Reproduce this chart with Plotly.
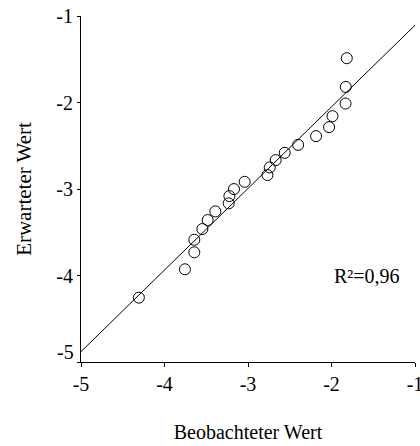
import plotly.graph_objects as go

# Observed (x) vs expected (y) values
beobachtet = [-4.307, -3.755, -3.643, -3.643, -3.547, -3.483, -3.391, -3.231, -3.223, -3.168,
              -3.040, -2.767, -2.740, -2.668, -2.560, -2.400, -2.185, -2.029, -1.988, -1.832,
              -1.829, -1.817]
erwartet = [-4.256, -3.928, -3.732, -3.587, -3.463, -3.359, -3.259, -3.166, -3.082, -3.001,
            -2.917, -2.839, -2.751, -2.666, -2.582, -2.490, -2.389, -2.285, -2.158, -2.012,
            -1.820, -1.488]

# Regression line end points
linie_x = [-5, -1]
linie_y = [-4.88, -1.107]

x_ticks = [-5, -4, -3, -2, -1]
y_ticks = [-5, -4, -3, -2, -1]
r2_text = "R²=0,96"

FONT = "Liberation Serif"
FS = 20

fig = go.Figure()
fig.add_trace(go.Scatter(x=linie_x, y=linie_y, mode="lines",
                         line=dict(color="black", width=1), showlegend=False,
                         hoverinfo="skip"))
fig.add_trace(go.Scatter(x=beobachtet, y=erwartet, mode="markers",
                         marker=dict(symbol="circle-open", size=11,
                                     color="black", line=dict(width=1, color="black")),
                         showlegend=False))

fig.update_layout(
    width=420, height=446,
    margin=dict(l=81, r=5, t=16, b=84),
    paper_bgcolor="white", plot_bgcolor="white",
    font=dict(family=FONT, size=FS, color="black"),
    xaxis=dict(range=[-5, -1], tickvals=x_ticks, ticktext=[str(v) for v in x_ticks],
               showline=True, linecolor="black", linewidth=1, ticks="outside",
               ticklen=4, tickcolor="black", showgrid=False, zeroline=False,
               ticklabeloverflow="allow", automargin=False,
               title=dict(text="Beobachteter Wert", standoff=30,
                          font=dict(family=FONT, size=FS))),
    yaxis=dict(range=[-5, -1], tickvals=y_ticks,
               ticktext=["" if v == -5 else str(v) for v in y_ticks],
               showline=True, linecolor="black", linewidth=1, ticks="outside",
               ticklen=3, tickcolor="black", showgrid=False, zeroline=False,
               ticklabeloverflow="allow", automargin=False,
               title=dict(text="Erwarteter Wert", standoff=18,
                          font=dict(family=FONT, size=21))),
)

fig.add_annotation(x=-5, y=-5, xref="x", yref="y", text=str(y_ticks[0]),
                   showarrow=False, xanchor="right", xshift=-5, yshift=10,
                   font=dict(family=FONT, size=FS))
fig.add_annotation(x=-1.57, y=-4.0, xref="x", yref="y", text=r2_text,
                   showarrow=False, font=dict(family=FONT, size=FS))

fig.write_html("out.html")
